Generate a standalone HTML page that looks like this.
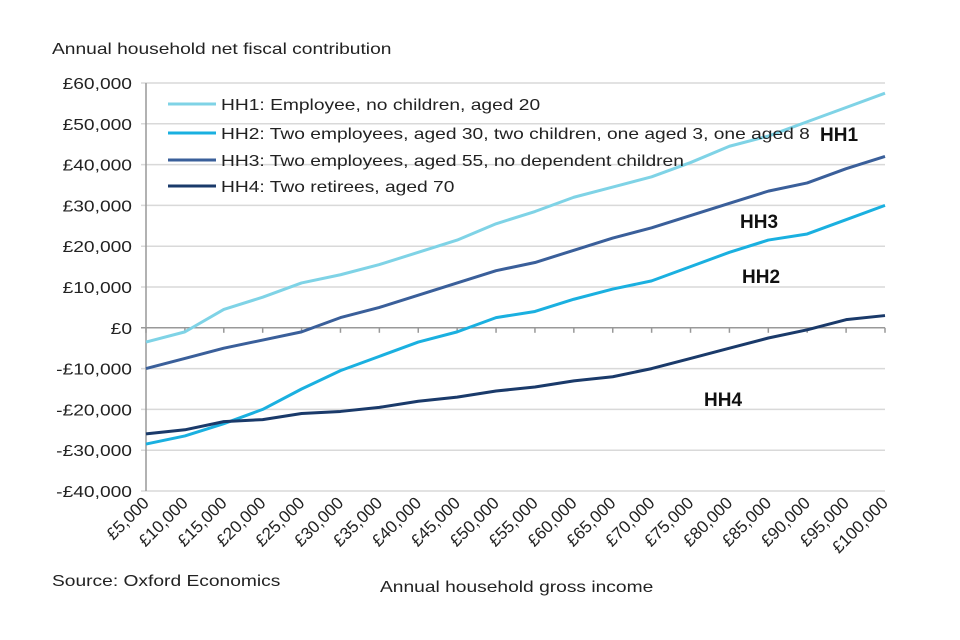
<!DOCTYPE html>
<html><head><meta charset="utf-8"><style>
body{margin:0;background:#fff;}
svg{display:block;font-family:"Liberation Sans",sans-serif;}
</style></head><body>
<svg id="chart" width="960" height="640">
<text class="wide" x="52" y="54" font-size="16" fill="#222">Annual household net fiscal contribution</text>
<g id="grid"></g><g id="yt"></g><g id="xt"></g><g id="lines"></g>
<g font-size="16" fill="#222">
<line x1="168" y1="104" x2="216" y2="104" stroke="#7fd3e6" stroke-width="3"/>
<text class="wide" x="221" y="110">HH1: Employee, no children, aged 20</text>
<line x1="168" y1="133" x2="216" y2="133" stroke="#1ab0e0" stroke-width="3"/>
<text class="wide" x="221" y="139">HH2: Two employees, aged 30, two children, one aged 3, one aged 8</text>
<line x1="168" y1="160" x2="216" y2="160" stroke="#3a5f9a" stroke-width="3"/>
<text class="wide" x="221" y="166">HH3: Two employees, aged 55, no dependent children</text>
<line x1="168" y1="186" x2="216" y2="186" stroke="#1a3a6a" stroke-width="3"/>
<text class="wide" x="221" y="192">HH4: Two retirees, aged 70</text>
</g>
<g font-size="19" font-weight="bold" fill="#111">
<text x="820" y="141">HH1</text>
<text x="740" y="228">HH3</text>
<text x="742" y="283">HH2</text>
<text x="704" y="406">HH4</text>
</g>
<text class="wide" x="52" y="586" font-size="16" fill="#222">Source: Oxford Economics</text>
<text class="wide" x="380" y="592" font-size="16" fill="#222">Annual household gross income</text>
</svg>
<script>
const categories=["£5,000","£10,000","£15,000","£20,000","£25,000","£30,000","£35,000","£40,000","£45,000","£50,000","£55,000","£60,000","£65,000","£70,000","£75,000","£80,000","£85,000","£90,000","£95,000","£100,000"];
const yTicks=[60000,50000,40000,30000,20000,10000,0,-10000,-20000,-30000,-40000];
const yTickLabels=["£60,000","£50,000","£40,000","£30,000","£20,000","£10,000","£0","-£10,000","-£20,000","-£30,000","-£40,000"];
const hh1=[-3500,-1000,4500,7500,11000,13000,15500,18500,21500,25500,28500,32000,34500,37000,40500,44500,47000,50500,54000,57500];
const hh2=[-28500,-26500,-23500,-20000,-15000,-10500,-7000,-3500,-1000,2500,4000,7000,9500,11500,15000,18500,21500,23000,26500,30000];
const hh3=[-10000,-7500,-5000,-3000,-1000,2500,5000,8000,11000,14000,16000,19000,22000,24500,27500,30500,33500,35500,39000,42000];
const hh4=[-26000,-25000,-23000,-22500,-21000,-20500,-19500,-18000,-17000,-15500,-14500,-13000,-12000,-10000,-7500,-5000,-2500,-500,2000,3000];
const NS="http://www.w3.org/2000/svg";
const X0=146,X1=885,Y0=83,Y1=491,VMAX=60000,VMIN=-40000;
const xs=i=>X0+(X1-X0)*i/(categories.length-1);
const ys=v=>Y0+(VMAX-v)/(VMAX-VMIN)*(Y1-Y0);
function mk(tag,attrs,parent){const e=document.createElementNS(NS,tag);for(const k in attrs)e.setAttribute(k,attrs[k]);parent.appendChild(e);return e;}
const grid=document.getElementById('grid'),yt=document.getElementById('yt'),xt=document.getElementById('xt'),lg=document.getElementById('lines');
yTicks.forEach((v,i)=>{
 const l=mk('line',{x1:X0-5,x2:X1,y1:ys(v),y2:ys(v),stroke:v===0?'#999':'#d9d9d9','stroke-width':1.5},grid);
 
 
 const t=mk('text',{x:132,y:ys(v)+6,'text-anchor':'end','font-size':16,fill:'#222',class:'wide'},yt);
 t.textContent=yTickLabels[i];
 
 
});
const ax=mk('line',{x1:X0,x2:X0,y1:Y0,y2:Y1,stroke:'#999','stroke-width':1.5},grid);


categories.forEach((c,i)=>{
 const x=xs(i);
 const tk=mk('line',{x1:x,x2:x,y1:ys(0),y2:ys(0)+5,stroke:'#999','stroke-width':1.5},xt);
 
 
 const t=mk('text',{x:x+4,y:504,'text-anchor':'end','font-size':17,fill:'#222',transform:`rotate(-45 ${x+4} 504)`},xt);
 t.textContent=c;
 
 
});
[[hh1,'#7fd3e6','line-hh1'],[hh2,'#1ab0e0','line-hh2'],[hh3,'#3a5f9a','line-hh3'],[hh4,'#1a3a6a','line-hh4']].forEach(([d,c,n])=>{
 const p=mk('polyline',{points:d.map((v,i)=>xs(i)+','+ys(v)).join(' '),fill:'none',stroke:c,'stroke-width':3,'stroke-linejoin':'round'},lg);
 
 
});
document.querySelectorAll('text.wide').forEach(t=>{
 const w=t.getComputedTextLength();
 t.setAttribute('textLength',w*1.2);
 t.setAttribute('lengthAdjust','spacingAndGlyphs');
});
</script>
</body></html>
